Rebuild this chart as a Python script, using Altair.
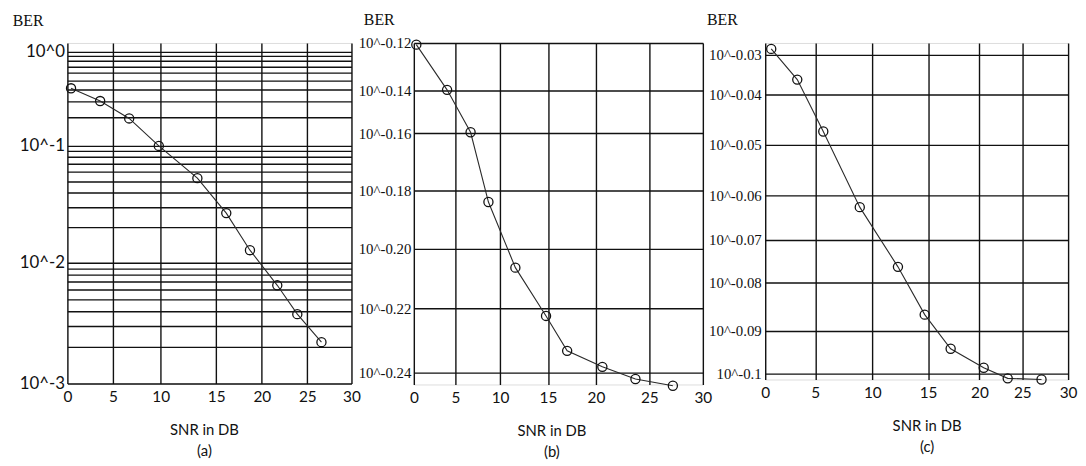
import altair as alt
import pandas as pd

# ---- data ----
snr_a = [0.4, 3.6, 6.7, 9.8, 13.3, 16.1, 18.7, 21.7, 23.9, 26.6]
ber_a = [0.41, 0.30, 0.196, 0.100, 0.053, 0.0266, 0.0128, 0.0065, 0.00375, 0.0022]

snr_b = [0.3, 4.0, 6.7, 8.7, 11.6, 14.8, 17.0, 20.6, 23.7, 27.2]
ber_exp_b = [-0.1207, -0.1396, -0.1595, -0.1839, -0.2064, -0.2224, -0.2333, -0.2383, -0.2421, -0.2442]

snr_c = [0.6, 3.2, 5.7, 8.9, 12.3, 14.7, 17.2, 20.5, 23.3, 27.1]
ber_exp_c = [-0.0285, -0.0363, -0.0474, -0.0627, -0.0763, -0.0866, -0.0942, -0.0987, -0.1013, -0.1016]

x_ticks = [0, 5, 10, 15, 20, 25, 30]
y_grid_a = [0.001, 0.002, 0.003, 0.004, 0.005, 0.006, 0.007, 0.008, 0.009,
            0.01, 0.02, 0.03, 0.04, 0.05, 0.06, 0.07, 0.08, 0.09,
            0.1, 0.2, 0.3, 0.4, 0.5, 0.6, 0.7, 0.8, 0.9, 1.0]
y_ticks_b = [-0.24, -0.22, -0.20, -0.18, -0.16, -0.14, -0.12]
y_ticks_c = [-0.10, -0.09, -0.08, -0.07, -0.06, -0.05, -0.04, -0.03]
panel_tags = ["(a)", "(b)", "(c)"]
x_title = "SNR in DB"
y_title = "BER"

INK = "#111111"
SANS = "Lato"
SERIF = "Liberation Serif"


def x_axis(tag, title_x):
    return alt.Axis(values=x_ticks, grid=True, gridColor=INK, gridWidth=1.4, gridOpacity=1,
                    ticks=False, domain=False, labelFont=SANS, labelFontSize=15.5, labelColor=INK,
                    labelPadding=6, labelFlush=False, labelOverlap=False,
                    title=[x_title, tag], titleFont=SANS, titleFontSize=15, titleFontWeight="normal",
                    titleColor=INK, titleX=title_x, titleY=40, titleAlign="center",
                    titleBaseline="top", titleLineHeight=21)


def y_axis(values, label_expr, font, size, pad, title_x, title_y):
    return alt.Axis(values=values, grid=True, gridColor=INK, gridWidth=1.4, gridOpacity=1,
                    ticks=False, domain=False, labelFont=font, labelFontSize=size, labelColor=INK,
                    labelPadding=pad, labelFlush=False, labelOverlap=False, labelExpr=label_expr,
                    title=y_title, titleFont=SERIF, titleFontSize=16, titleFontWeight="normal",
                    titleColor=INK, titleAngle=0, titleX=title_x, titleY=title_y,
                    titleAlign="left", titleBaseline="middle")


def panel(df, yfield, xscale, yscale, xaxis, yaxis, w, h):
    base = alt.Chart(df).encode(
        x=alt.X("snr:Q", scale=xscale, axis=xaxis),
        y=alt.Y(f"{yfield}:Q", scale=yscale, axis=yaxis),
    )
    line = base.mark_line(color="#2a2a2a", strokeWidth=1.1)
    pts = base.mark_point(shape="circle", filled=False, color=INK, size=85, strokeWidth=1.3, opacity=1)
    return alt.layer(line, pts).properties(width=w, height=h)


df_a = pd.DataFrame({"snr": snr_a, "ber": ber_a})
df_b = pd.DataFrame({"snr": snr_b, "e": ber_exp_b})
df_c = pd.DataFrame({"snr": snr_c, "e": ber_exp_c})

WA, HA = 287, 344
WB, HB = 292, 345
WC, HC = 306, 340

chart_a = panel(
    df_a, "ber",
    alt.Scale(domain=x_ticks, range=[0, 46, 94.3, 150.4, 196.4, 242.4, WA], nice=False, zero=False),
    alt.Scale(type="log", domain=[0.001, 0.01, 0.1, 1, 1.25], range=[HA, 222, 104, 9, 0], nice=False),
    x_axis(panel_tags[0], 138),
    y_axis(y_grid_a,
           "abs(log(datum.value)/LN10 - round(log(datum.value)/LN10)) < 1e-6 ? '10^' + round(log(datum.value)/LN10) : ''",
           SANS, 17, 3, -55.7, -23),
    WA, HA,
)

chart_b = panel(
    df_b, "e",
    alt.Scale(domain=x_ticks, range=[0, 42, 87.1, 135.5, 184, 237.9, WB], nice=False, zero=False),
    alt.Scale(domain=[-0.2438] + y_ticks_b, range=[HB, 332.7, 268, 207.7, 149.3, 91.3, 48.3, 0],
              nice=False, zero=False),
    x_axis(panel_tags[1], 139),
    y_axis(y_ticks_b, "'10^-' + format(-datum.value, '.2f')", SERIF, 15, 3, -51, -24),
    WB, HB,
)

chart_c = panel(
    df_c, "e",
    alt.Scale(domain=x_ticks, range=[0, 50.6, 108.2, 164.5, 216.4, 259.7, WC], nice=False, zero=False),
    alt.Scale(domain=[-0.1016] + y_ticks_c + [-0.027],
              range=[HC, 333.7, 291, 242.3, 198.7, 153.7, 102.7, 51.7, 12, 0], nice=False, zero=False),
    x_axis(panel_tags[2], 163),
    y_axis(y_ticks_c, "'10^-' + format(-datum.value, '.2~f')", SERIF, 15, 4, -59.4, -24),
    WC, HC,
)

chart = alt.hconcat(
    chart_a, chart_b, chart_c, spacing=63, bounds="flush",
    padding={"left": 3, "top": 0, "right": 0, "bottom": 0},
).configure_view(stroke=INK, strokeWidth=1.4).configure(background="white")

chart.save("out.html", embed_options={"renderer": "svg", "actions": False})
